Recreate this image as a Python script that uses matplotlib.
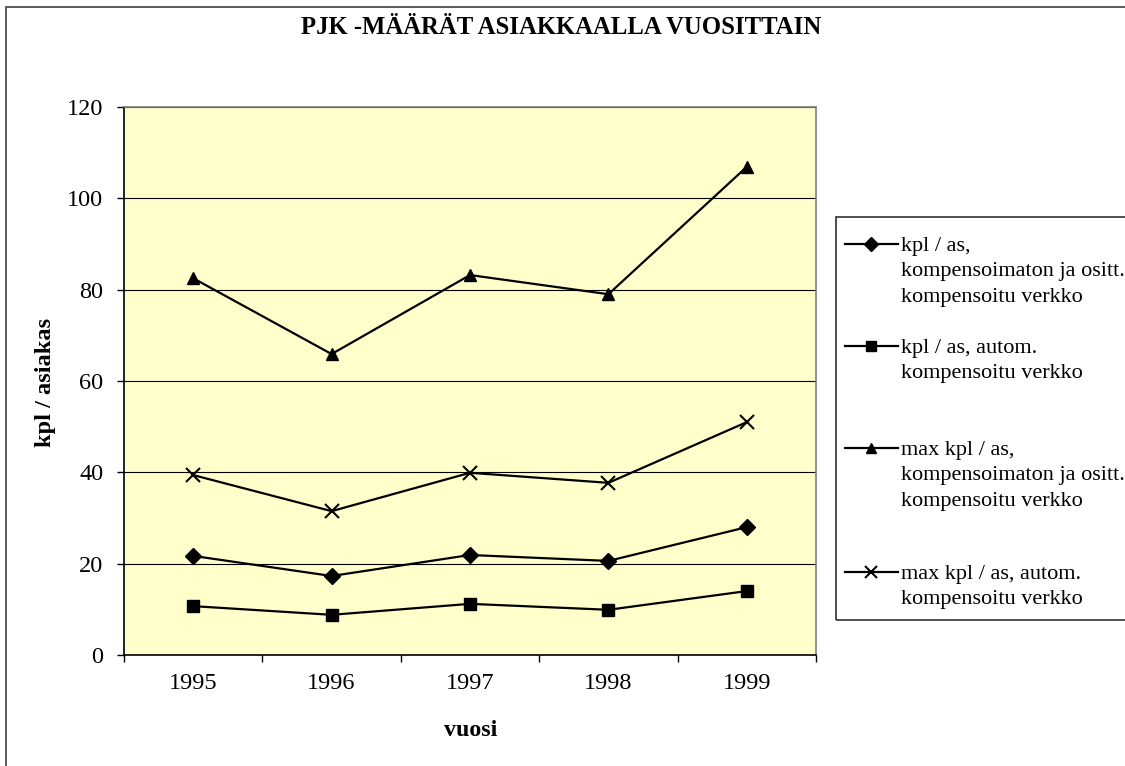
import matplotlib
matplotlib.use("Agg")
import matplotlib.pyplot as plt
from matplotlib.lines import Line2D
from matplotlib.patches import Rectangle

plt.rcParams['font.family'] = ['Liberation Serif', 'DejaVu Serif']

years = ['1995', '1996', '1997', '1998', '1999']
kpl_komp = [21.7, 17.3, 21.9, 20.6, 28.0]
kpl_autom = [10.7, 8.8, 11.2, 9.9, 14.0]
max_komp = [82.5, 65.9, 83.2, 79.0, 106.9]
max_autom = [39.4, 31.5, 39.9, 37.7, 51.0]

labels = ['kpl / as,\nkompensoimaton ja ositt.\nkompensoitu verkko',
          'kpl / as, autom.\nkompensoitu verkko',
          'max kpl / as,\nkompensoimaton ja ositt.\nkompensoitu verkko',
          'max kpl / as, autom.\nkompensoitu verkko']
series = [kpl_komp, kpl_autom, max_komp, max_autom]
markers = ['D', 's', '^', 'x']
msizes = [8, 8.5, 8.5, 10.5]
yticks = [0, 20, 40, 60, 80, 100, 120]

W, H = 1125, 766
fig = plt.figure(figsize=(W / 100, H / 100), dpi=100)

def fx(px):
    return px / W

def fy(py):
    return 1 - py / H

# figure border (extends past right/bottom edge)
fig.patches.append(Rectangle((fx(6), fy(800)), fx(1200) - fx(6), fy(6.5) - fy(800),
                             transform=fig.transFigure, fill=False,
                             edgecolor='#404040', linewidth=1.2))

ax = fig.add_axes([fx(124), fy(655), fx(816) - fx(124), fy(107) - fy(655)])
ax.set_facecolor('#FFFFCC')

x = list(range(1, len(years) + 1))
for vals, m, ms in zip(series, markers, msizes):
    ax.plot(x, vals, color='black', linewidth=1.6, marker=m, markersize=ms,
            markeredgewidth=1.5 if m == 'x' else 1.0, clip_on=False, zorder=3)

ax.set_xlim(0.5, len(years) + 0.5)
ax.set_ylim(0, 120)
ax.set_yticks(yticks)
ax.set_yticklabels([str(v) for v in yticks], fontsize=17.5)
ax.yaxis.grid(True, color='black', linewidth=0.8)
ax.set_axisbelow(True)

ax.set_xticks(x)
ax.set_xticklabels(years, fontsize=17.5)
ax.set_xticks([i + 0.5 for i in range(0, len(years) + 1)], minor=True)
ax.tick_params(axis='x', which='major', length=0, pad=13)
ax.tick_params(axis='x', which='minor', length=5, width=1, direction='out', color='black')
ax.tick_params(axis='y', which='major', length=5, width=1, direction='out', pad=10, color='black')

for s in ['top', 'right']:
    ax.spines[s].set_color('#808080')
    ax.spines[s].set_linewidth(1.2)
for s in ['left', 'bottom']:
    ax.spines[s].set_color('black')
    ax.spines[s].set_linewidth(1.2)

fig.text(fx(561), fy(28), 'PJK -MÄÄRÄT ASIAKKAALLA VUOSITTAIN', ha='center', va='center',
         fontsize=17.8, fontweight='bold')
fig.text(fx(46), fy(382), 'kpl / asiakas', rotation=90, ha='center', va='center',
         fontsize=17.6, fontweight='bold')
fig.text(fx(471), fy(731), 'vuosi', ha='center', va='center',
         fontsize=17.2, fontweight='bold')

# legend box (Excel style, clipped at right edge)
fig.patches.append(Rectangle((fx(836), fy(620)), fx(1200) - fx(836), fy(217) - fy(620),
                             transform=fig.transFigure, fill=False,
                             edgecolor='#303030', linewidth=1.2))
entry_y = [244, 346, 448, 572]
for lab, m, ms, ey in zip(labels, markers, msizes, entry_y):
    fig.lines.append(Line2D([fx(845), fx(898)], [fy(ey), fy(ey)], transform=fig.transFigure,
                            color='black', linewidth=1.6))
    fig.lines.append(Line2D([fx(871)], [fy(ey)], transform=fig.transFigure, color='black',
                            marker=m, markersize=ms * 0.85,
                            markeredgewidth=1.5 if m == 'x' else 1.0, linestyle='none'))
    fig.text(fx(901), fy(ey - 7), lab, ha='left', va='top', fontsize=16, linespacing=1.45)

fig.savefig('out.png', dpi=100)
